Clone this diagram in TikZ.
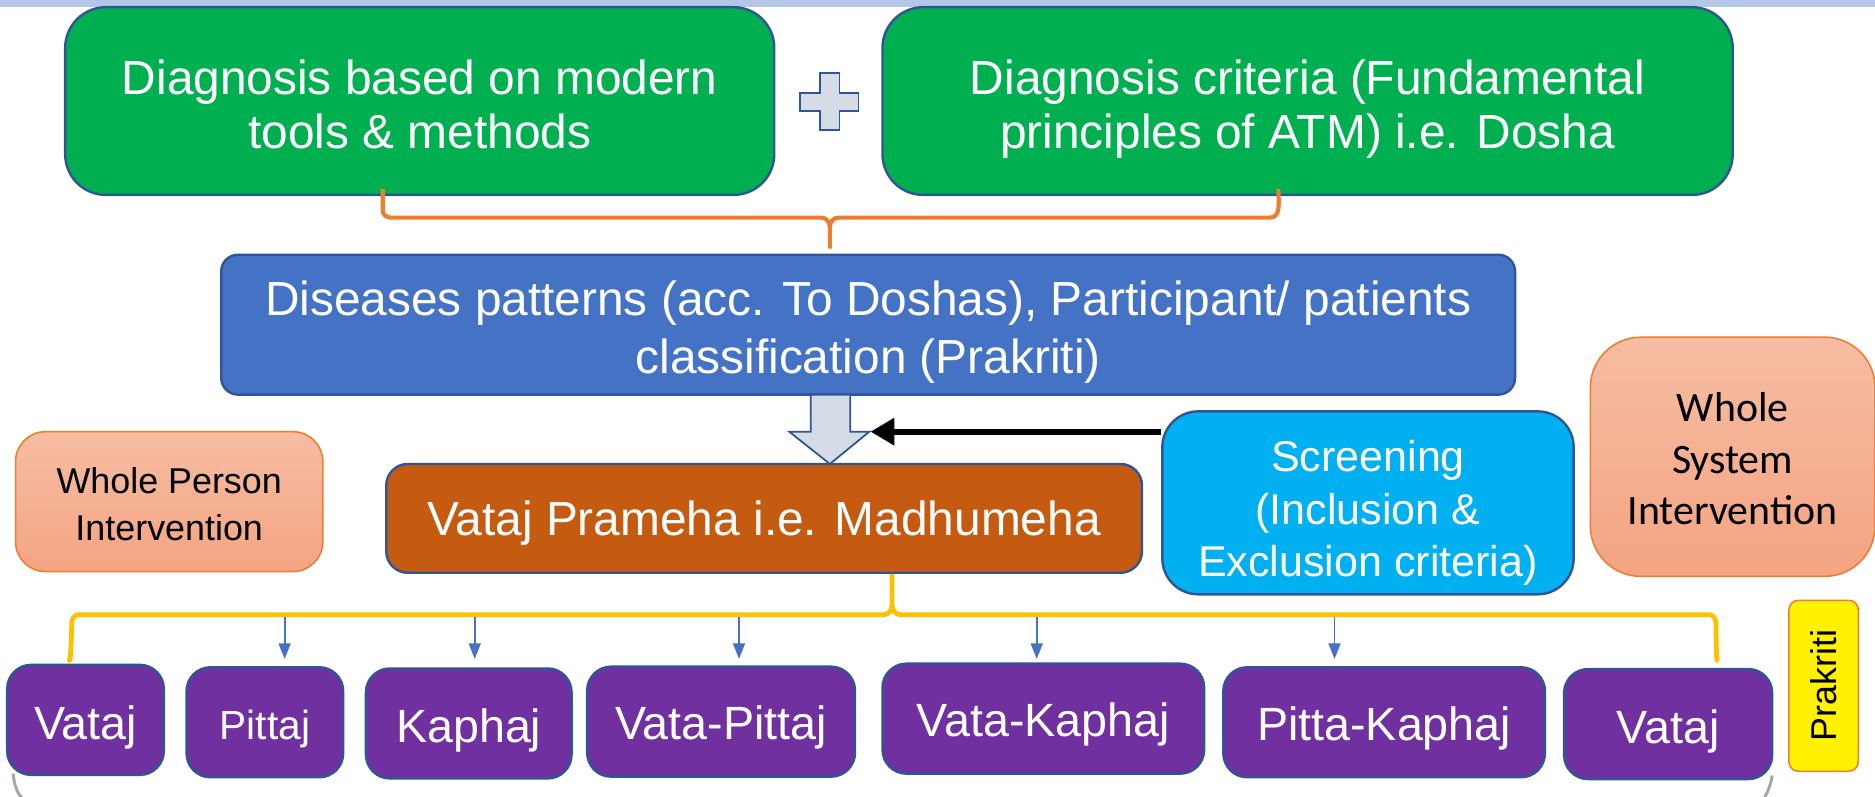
\documentclass[tikz,border=0pt]{standalone}
\usepackage{fontspec}
\setmainfont{Liberation Sans}
\newfontfamily\calibri{Carlito}
\usetikzlibrary{arrows.meta}
\definecolor{bdr}{HTML}{2F5597}
\definecolor{grn}{HTML}{00B050}
\definecolor{blu}{HTML}{4472C4}
\definecolor{brn}{HTML}{C55A11}
\definecolor{cyn}{HTML}{00B0F0}
\definecolor{pur}{HTML}{7030A0}
\definecolor{orn}{HTML}{ED7D31}
\definecolor{ylw}{HTML}{FFC000}
\definecolor{band}{HTML}{B4C7E7}
\definecolor{pale}{HTML}{D6DCE5}
\definecolor{peachtop}{HTML}{F6BDA3}
\definecolor{peachbot}{HTML}{F4A481}
\definecolor{gry}{HTML}{A6A6A6}
\newcommand\lowered[2]{\raisebox{-#1}[\height][\depth]{\begin{tabular}{@{}c@{}}#2\end{tabular}}}
\tikzset{
  box/.style={draw=bdr, line width=2pt, inner sep=0pt, align=center, text=white},
  peach/.style={draw=orn, line width=1.3pt, inner sep=0pt, align=center, text=black,
    top color=peachtop, bottom color=peachbot},
  purp/.style={box, fill=pur, rounded corners=20pt, minimum height=92pt,
    font=\fontsize{39}{46}\selectfont},
  smallarr/.style={draw=blu, line width=1.6pt, -{Triangle[length=13pt,width=10pt]}},
}
\begin{document}
\begin{tikzpicture}[x=1pt,y=-1pt]
\useasboundingbox (0,0) rectangle (1568,666);
\fill[band] (0,0) rectangle (1568,6);

% top green boxes
\node[box, fill=grn, rounded corners=34pt, minimum width=593pt, minimum height=157pt,
  font=\fontsize{40}{45}\selectfont] (g1) at (351,84.5)
  {\lowered{8pt}{Diagnosis based on modern\\tools \& methods}};
\node[box, fill=grn, rounded corners=34pt, minimum width=711pt, minimum height=157pt,
  font=\fontsize{40}{45}\selectfont] (g2) at (1093.5,84.5)
  {\lowered{8pt}{Diagnosis criteria (Fundamental\\principles of ATM) i.e. Dosha}};

% plus sign
\draw[draw=bdr, fill=pale, line width=1.5pt]
  (686,61) -- (702,61) -- (702,78) -- (718,78) -- (718,93) -- (702,93) -- (702,109)
  -- (686,109) -- (686,93) -- (669,93) -- (669,78) -- (686,78) -- cycle;

% blue box
\node[box, fill=blu, rounded corners=14pt, minimum width=1082pt, minimum height=117pt,
  font=\fontsize{40}{48}\selectfont] (dis) at (726,271.5)
  {\lowered{7pt}{Diseases patterns (acc. To Doshas), Participant/ patients\\classification (Prakriti)}};

% orange brace
\coordinate (ob1) at (320,158);
\coordinate (ob2) at (1069,158);
\coordinate (obt) at (694,208);
\draw[orn, line width=3.5pt, line join=round]
  (ob1) -- (320,176) to[out=-90,in=180] (327,182) -- (687,182)
  to[out=0,in=90] (694,190) -- (obt);
\draw[orn, line width=3.5pt, line join=round]
  (694,190) to[out=90,in=180] (701,182) -- (1062,182)
  to[out=0,in=-90] (ob2);

% peach boxes
\node[peach, rounded corners=25pt, minimum width=257pt, minimum height=117pt,
  font=\fontsize{30}{39}\selectfont] (person) at (141.5,419.5)
  {\lowered{5pt}{Whole Person\\Intervention}};
\node[peach, rounded corners=42pt, minimum width=238pt, minimum height=200pt,
  font=\calibri\fontsize{35}{43}\selectfont] (system) at (1449,382)
  {\lowered{5pt}{Whole\\System\\Intervention}};

% Vataj Prameha
\node[box, fill=brn, rounded corners=18pt, minimum width=632pt, minimum height=91pt,
  font=\fontsize{40}{46}\selectfont] (pram) at (639,433.5)
  {\lowered{5pt}{Vataj Prameha i.e. Madhumeha}};

% screening
\node[box, fill=cyn, rounded corners=30pt, minimum width=344pt, minimum height=153pt,
  font=\fontsize{36}{44}\selectfont] (scr) at (1144,420.5)
  {\lowered{9pt}{Screening\\(Inclusion \&\\Exclusion criteria)}};

% block arrow
\draw[draw=bdr, fill=pale, line width=1.5pt, line join=miter]
  (678,330) -- (711,330) -- (711,361) -- (727,361) -- (694,388) -- (660,361)
  -- (678,361) -- cycle;
\coordinate (ah) at (728,361);
\draw[black, line width=5pt, -{Triangle[length=20pt,width=22pt]}]
  (scr.west |- ah) -- (ah);

% yellow brace
\coordinate (yb1) at (58,550);
\coordinate (yb2) at (1436,550);
\draw[ylw, line width=4pt, line join=round]
  (yb1) to[out=-88,in=-90] (60,521) to[out=90,in=180] (66,514) -- (739,514)
  to[out=0,in=-90] (746,506) -- (pram.south -| 746,0);
\draw[ylw, line width=4pt, line join=round]
  (746,506) to[out=-90,in=180] (753,514) -- (1429,514)
  to[out=0,in=90] (1435,521) to[out=-90,in=-92] (yb2);

% purple boxes
\node[purp, minimum width=131pt] (v1) at (71.5,602) {\lowered{7pt}{Vataj}};
\node[purp, minimum width=131pt, font=\fontsize{34}{40}\selectfont] (pt) at (221.5,604) {\lowered{6pt}{Pittaj}};
\node[purp, minimum width=172pt] (kp) at (392,605) {\lowered{7pt}{Kaphaj}};
\node[purp, minimum width=224pt] (vpt) at (603,603.5) {\lowered{6pt}{Vata-Pittaj}};
\node[purp, minimum width=269pt] (vkp) at (872.5,601) {\lowered{6pt}{Vata-Kaphaj}};
\node[purp, minimum width=269pt] (pkp) at (1157.5,604) {\lowered{6pt}{Pitta-Kaphaj}};
\node[purp, minimum width=174pt] (v2) at (1395,605.5) {\lowered{7pt}{Vataj}};

% small arrows
\foreach \n/\x in {a1/238,a2/397,a3/618,a4/867,a5/1116}{
  \coordinate (\n s) at (\x,516);
  \coordinate (\n e) at (\x,551);
  \draw[smallarr] (\n s) -- (\n e);
}

% prakriti
\node[draw=orn, line width=1.3pt, fill=yellow, rounded corners=8pt, rotate=90,
  minimum width=143pt, minimum height=58pt, inner sep=0pt,
  font=\fontsize{30}{36}\selectfont] (prk) at (1525,573.5) {Prakriti};

% gray curves at the bottom
\draw[gry, line width=2.5pt] (v1.south west) ++(6,-2) .. controls (12,658) and (15,664) .. (19,668);
\draw[gry, line width=2.5pt] (v2.south east) ++(-1,-4) .. controls (1481,656) and (1478,663) .. (1475,668);
\end{tikzpicture}
\end{document}
